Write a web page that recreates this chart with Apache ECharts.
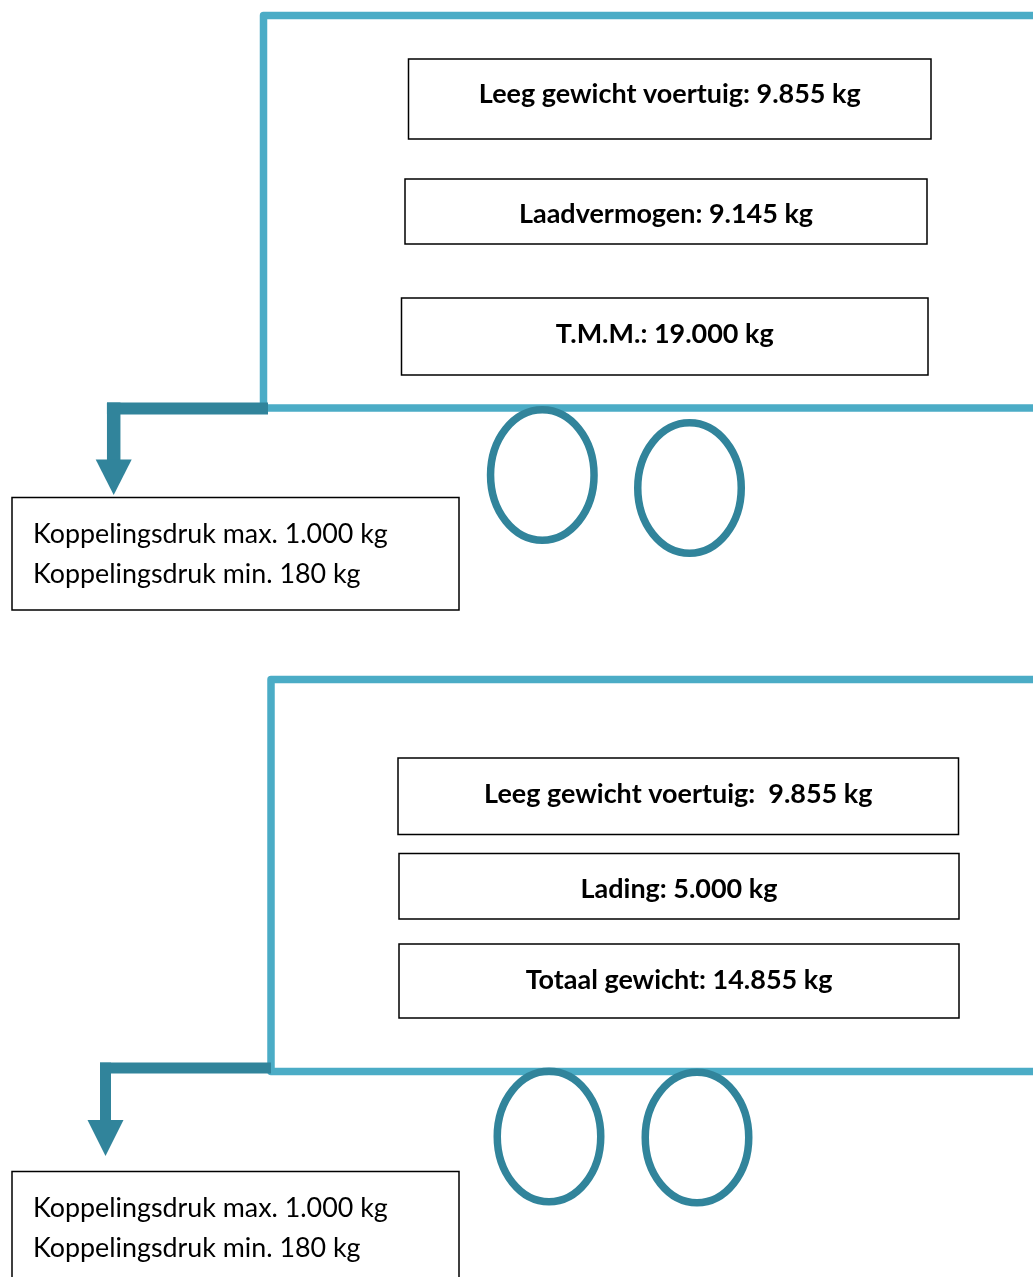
<!DOCTYPE html>
<html>
<head>
<meta charset="utf-8">
<script src="https://cdn.jsdelivr.net/npm/echarts@6/dist/echarts.min.js"></script>
<style>
html,body{margin:0;padding:0;background:#ffffff;}
#main{width:1033px;height:1277px;}
</style>
</head>
<body>
<div id="main"></div>
<script>
// ---------- data ----------
const topLabels = ['Leeg gewicht voertuig: ', 'Laadvermogen: ', 'T.M.M.: '];
const topValues = [9855, 9145, 19000];
const bottomLabels = ['Leeg gewicht voertuig:  ', 'Lading: ', 'Totaal gewicht: '];
const bottomValues = [9855, 5000, 14855];
const couplingLabels = ['Koppelingsdruk max. ', 'Koppelingsdruk min. '];
const couplingValues = [1000, 180];
const unit = ' kg';

// ---------- helpers ----------
function nl(n) { return String(n).replace(/\B(?=(\d{3})+(?!\d))/g, '.'); }
const boxTexts = [
  topLabels.map((l, i) => l + nl(topValues[i]) + unit),
  bottomLabels.map((l, i) => l + nl(bottomValues[i]) + unit)
];
const noteTexts = couplingLabels.map((l, i) => l + nl(couplingValues[i]) + unit);

const BOLD_FAMILY = "Lato, 'Noto Sans', sans-serif";
const REG_FAMILY = "Lato, 'Noto Sans', sans-serif";
function fitSize(text, weight, family, target) {
  const ctx = document.createElement('canvas').getContext('2d');
  ctx.font = weight + ' 100px ' + family;
  return 100 * target / ctx.measureText(text).width;
}
const boldSize = fitSize(boxTexts[0][0], 'bold', BOLD_FAMILY, 382);
const regSize = fitSize(noteTexts[0], 'normal', REG_FAMILY, 355);

// ---------- layout (pixel space of the hidden axes) ----------
const LIGHT = '#4BACC6';
const DARK = '#31849B';
const layout = [
  { frameX: 263.5, frameTop: 15.5, frameBottom: 408,
    boxes: [[408.5, 59, 931, 139], [405, 179, 927, 244], [401.5, 298, 928, 375]],
    textY: [94, 214.5, 334],
    hitch: { y: 408.5, w: 12, x1: 268, vx: 113.7, vw: 13.5, headTop: 459.5, tip: 495, half: 18 },
    note: [12, 497.5, 459, 610], noteX: 33, noteY: [534, 574],
    wheels: [[542.3, 475], [689.5, 488]] },
  { frameX: 271, frameTop: 679.5, frameBottom: 1071.5,
    boxes: [[398, 758, 958.5, 834.5], [399, 853.5, 959, 919], [399, 944, 959, 1018]],
    textY: [794, 889.5, 980.5],
    hitch: { y: 1068, w: 10.8, x1: 271, vx: 105.5, vw: 11, headTop: 1120, tip: 1156, half: 18 },
    note: [12, 1171.5, 459, 1300], noteX: 33, noteY: [1208, 1248],
    wheels: [[549, 1136.5], [697, 1137.5]] }
];

function renderItem(params, api) {
  const d = layout[params.dataIndex];
  const P = (x, y) => api.coord([x, y]);
  const children = [];
  // trailer frame
  const a = P(1045, d.frameTop), b = P(d.frameX, d.frameTop), c = P(d.frameX, d.frameBottom), e = P(1045, d.frameBottom);
  children.push({ type: 'polyline', shape: { points: [a, b, c, e] },
    style: { stroke: LIGHT, lineWidth: 7.5, fill: null, lineJoin: 'round' } });
  // hitch
  const h = d.hitch;
  const hx0 = P(h.vx - h.vw / 2, h.y - h.w / 2), hx1 = P(h.x1, h.y + h.w / 2);
  children.push({ type: 'rect', shape: { x: hx0[0], y: hx0[1], width: hx1[0] - hx0[0], height: hx1[1] - hx0[1] },
    style: { fill: DARK } });
  const v0 = P(h.vx - h.vw / 2, h.y - h.w / 2), v1 = P(h.vx + h.vw / 2, h.headTop + 0.5);
  children.push({ type: 'rect', shape: { x: v0[0], y: v0[1], width: v1[0] - v0[0], height: v1[1] - v0[1] },
    style: { fill: DARK } });
  children.push({ type: 'polygon', shape: { points: [P(h.vx - h.half, h.headTop), P(h.vx + h.half, h.headTop), P(h.vx, h.tip)] },
    style: { fill: DARK } });
  // wheels
  d.wheels.forEach(w => {
    const cc = P(w[0], w[1]);
    const r = P(w[0] + 51.75, w[1] + 65.25);
    children.push({ type: 'ellipse', shape: { cx: cc[0], cy: cc[1], rx: r[0] - cc[0], ry: r[1] - cc[1] },
      style: { stroke: DARK, lineWidth: 7.5, fill: null } });
  });
  // weight boxes
  d.boxes.forEach((bx, i) => {
    const p0 = P(bx[0], bx[1]), p1 = P(bx[2], bx[3]);
    children.push({ type: 'rect', shape: { x: p0[0], y: p0[1], width: p1[0] - p0[0], height: p1[1] - p0[1] },
      style: { fill: '#ffffff', stroke: '#000000', lineWidth: 1.5 } });
    const t = P((bx[0] + bx[2]) / 2, d.textY[i]);
    children.push({ type: 'text', x: t[0], y: t[1],
      style: { text: boxTexts[params.dataIndex][i], fill: '#000000', align: 'center', verticalAlign: 'middle',
        fontFamily: BOLD_FAMILY, fontWeight: 'bold', fontSize: boldSize } });
  });
  // coupling note
  const n0 = P(d.note[0], d.note[1]), n1 = P(d.note[2], d.note[3]);
  children.push({ type: 'rect', shape: { x: n0[0], y: n0[1], width: n1[0] - n0[0], height: n1[1] - n0[1] },
    style: { fill: '#ffffff', stroke: '#000000', lineWidth: 1.5 } });
  noteTexts.forEach((txt, i) => {
    const t = P(d.noteX, d.noteY[i]);
    children.push({ type: 'text', x: t[0], y: t[1],
      style: { text: txt, fill: '#000000', align: 'left', verticalAlign: 'middle',
        fontFamily: REG_FAMILY, fontWeight: 'normal', fontSize: regSize } });
  });
  return { type: 'group', children };
}

const chart = echarts.init(document.getElementById('main'), null, { renderer: 'canvas' });
chart.setOption({
  animation: false,
  backgroundColor: '#ffffff',
  grid: { left: 0, right: 0, top: 0, bottom: 0 },
  xAxis: { type: 'value', min: 0, max: 1033, show: false },
  yAxis: { type: 'value', min: 0, max: 1277, inverse: true, show: false },
  series: [{
    type: 'custom',
    clip: false,
    silent: true,
    data: [[0, 0], [1, 1]],
    encode: { x: 0, y: 1 },
    renderItem
  }]
});
</script>
</body>
</html>
